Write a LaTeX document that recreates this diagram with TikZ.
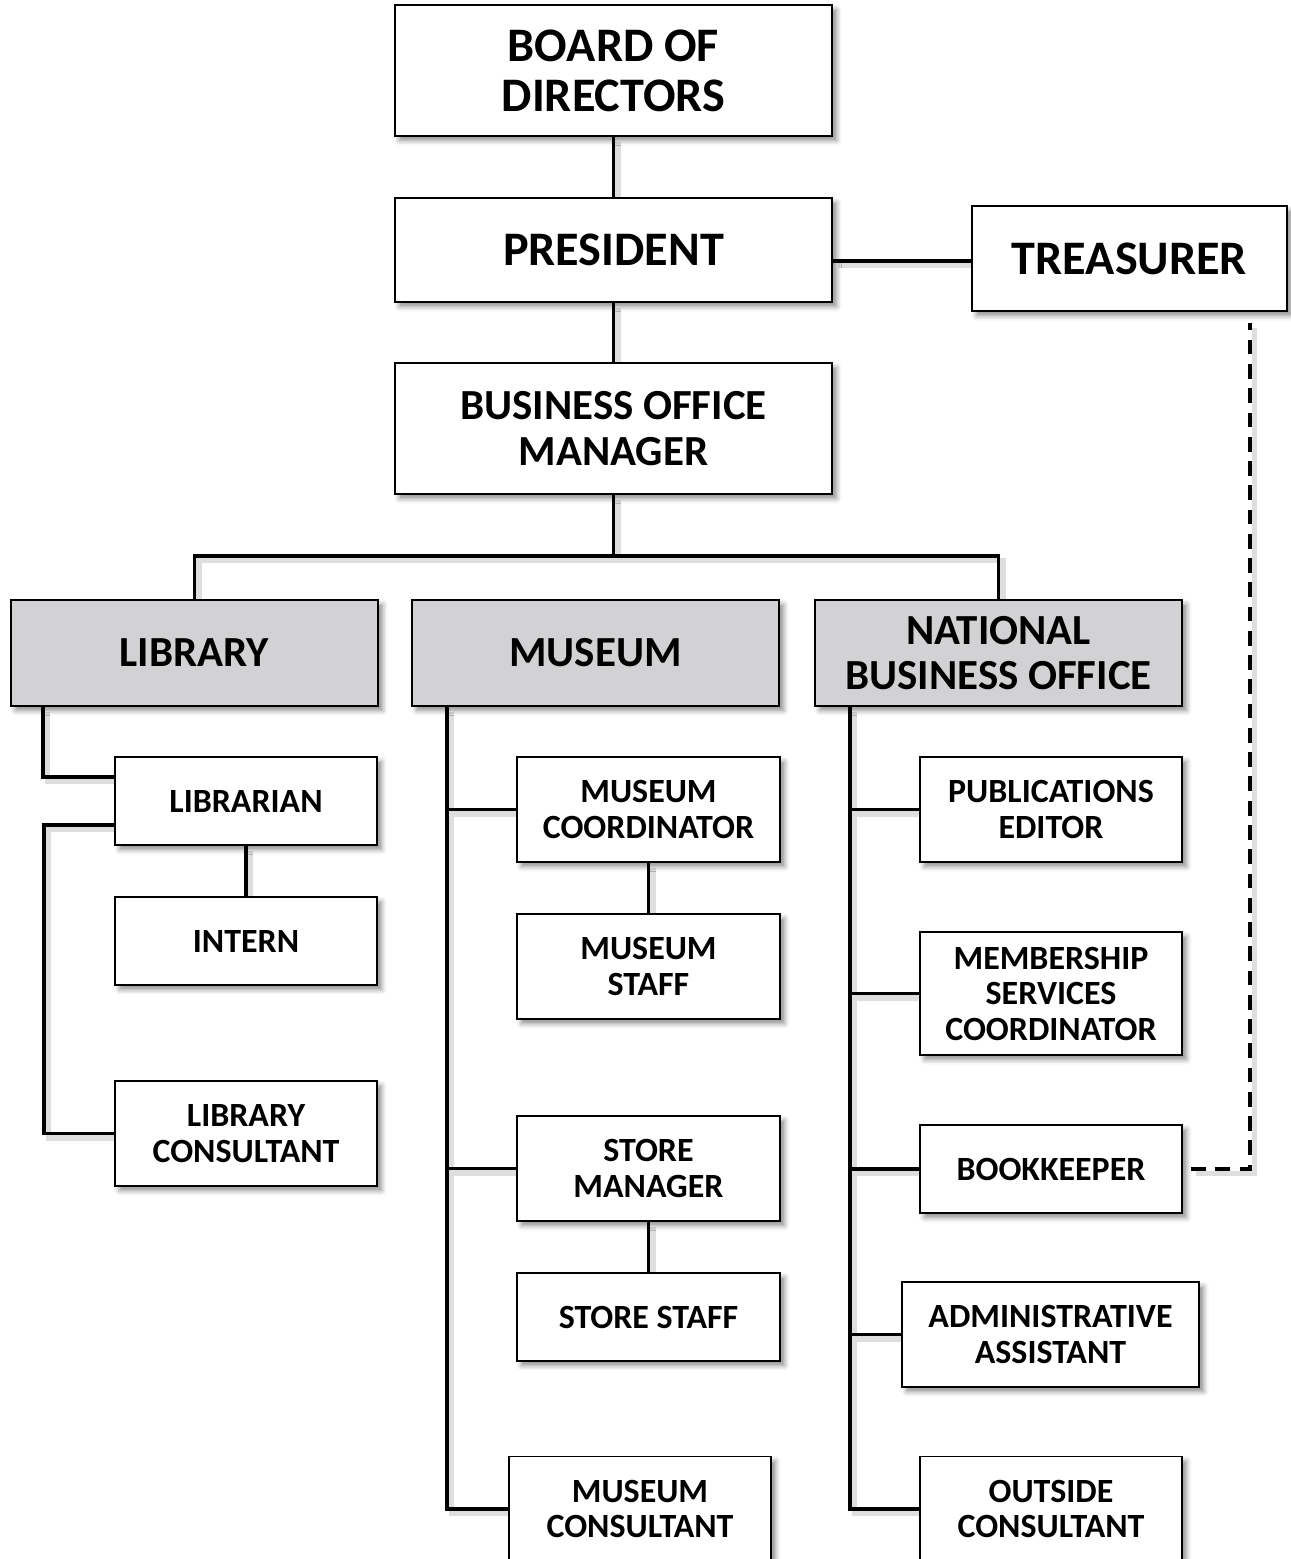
\documentclass[tikz,border=0pt]{standalone}
\usepackage{fontspec}
\setmainfont{Carlito}
\usetikzlibrary{positioning,shadows.blur,backgrounds}

\definecolor{deptgray}{RGB}{210,209,211}

\tikzset{
  box/.style={draw=black, line width=0.55pt, fill=white, rectangle, inner sep=0pt,
    align=center, font=\bfseries,
    blur shadow={shadow xshift=0.045cm, shadow yshift=-0.045cm, shadow blur radius=0.05cm, shadow opacity=45}},
  topbox/.style={box, font=\bfseries\fontsize{13.7pt}{14.2pt}\selectfont},
  midbox/.style={box, font=\bfseries\fontsize{12.2pt}{12.95pt}\selectfont},
  deptbox/.style={midbox, fill=deptgray, minimum width=3.67cm, minimum height=1.06cm},
  subbox/.style={box, font=\bfseries\fontsize{9.65pt}{10.1pt}\selectfont, minimum width=2.62cm},
  shade line/.style={preaction={draw=black!13, line width=1.6pt,
    transform canvas={shift={(0.045cm,-0.045cm)}}}},
  link/.style={line width=0.95pt, shade line},
  dashlink/.style={line width=0.95pt, dash pattern=on 4.2pt off 2.7pt, shade line}
}

\begin{document}
\begin{tikzpicture}[x=0.01cm,y=-0.01cm]
      \useasboundingbox (0,0) rectangle (1291,1559);
      \node (board) [topbox, minimum width=4.37cm, minimum height=1.31cm] at (613.5,70.5) {BOARD OF\\DIRECTORS};
      \node (pres) [topbox, minimum width=4.37cm, minimum height=1.04cm] at (613.5,250) {PRESIDENT};
      \node (treas) [topbox, minimum width=3.15cm, minimum height=1.05cm] at (1129.5,258.5) {TREASURER};
      \node (bom) [midbox, minimum width=4.37cm, minimum height=1.31cm] at (613.5,428.5) {BUSINESS OFFICE\\MANAGER};

      \node (lib) [deptbox] at (194.5,653) {LIBRARY};
      \node (mus) [deptbox] at (595.5,653) {MUSEUM};
      \node (nbo) [deptbox] at (998.5,653) {NATIONAL\\BUSINESS OFFICE};

      \node (librarian) [subbox, minimum height=0.88cm] at (246,801) {LIBRARIAN};
      \node (intern) [subbox, minimum height=0.88cm] at (246,941) {INTERN};
      \node (libcons) [subbox, minimum height=1.05cm] at (246,1133.5) {LIBRARY\\CONSULTANT};

      \node (muscoord) [subbox, minimum width=2.63cm, minimum height=1.05cm] at (648.5,809.5) {MUSEUM\\COORDINATOR};
      \node (musstaff) [subbox, minimum width=2.63cm, minimum height=1.05cm] at (648.5,966.5) {MUSEUM\\STAFF};
      \node (storemgr) [subbox, minimum width=2.63cm, minimum height=1.05cm] at (648.5,1168.5) {STORE\\MANAGER};
      \node (storestaff) [subbox, minimum width=2.63cm, minimum height=0.88cm] at (648.5,1317) {STORE STAFF};
      \node (muscons) [subbox, minimum height=1.05cm] at (640,1509) {MUSEUM\\CONSULTANT};

      \node (pubed) [subbox, minimum height=1.05cm] at (1051,809.5) {PUBLICATIONS\\EDITOR};
      \node (memb) [subbox, minimum height=1.23cm] at (1051,993.5) {MEMBERSHIP\\SERVICES\\COORDINATOR};
      \node (bookk) [subbox, minimum height=0.88cm] at (1051,1169) {BOOKKEEPER};
      \node (admin) [subbox, minimum width=2.97cm, minimum height=1.05cm] at (1050.5,1334.5) {ADMINISTRATIVE\\ASSISTANT};
      \node (outcons) [subbox, minimum height=1.05cm] at (1051,1509) {OUTSIDE\\CONSULTANT};

      \coordinate (bus) at (613.5,556);
      \coordinate (mspine) at ([xshift=0.36cm]mus.south west);
      \coordinate (nspine) at ([xshift=0.36cm]nbo.south west);

      \begin{scope}[on background layer]
      \draw[link] (board) -- (pres);
      \draw[link] (pres) -- (bom);
      \draw[link] ([yshift=-0.025cm]pres.east |- treas.west) -- ([yshift=-0.025cm]treas.west);
      \draw[link] (bom) -- (bus);
      \draw[link] (lib.north) |- (bus) -| (nbo.north);

      \draw[link] ([xshift=0.33cm]lib.south west) |- ([yshift=0.24cm]librarian.west);
      \draw[link] ([yshift=-0.24cm]librarian.west) -- ++(-70,0) |- (libcons.west);
      \draw[link] (librarian) -- (intern);

      \draw[link] (mspine) |- (muscons.west);
      \draw[link] (muscoord.west) -- (muscoord.west -| mspine);
      \draw[link] (storemgr.west) -- (storemgr.west -| mspine);
      \draw[link] (muscoord) -- (musstaff);
      \draw[link] (storemgr) -- (storestaff);

      \draw[link] (nspine) |- (outcons.west);
      \draw[link] (pubed.west) -- (pubed.west -| nspine);
      \draw[link] (memb.west) -- (memb.west -| nspine);
      \draw[link] (bookk.west) -- (bookk.west -| nspine);
      \draw[link] (admin.west) -- (admin.west -| nspine);

      \draw[dashlink] ([xshift=0.08cm]bookk.east) -| ([xshift=-0.38cm,yshift=-0.11cm]treas.south east);
      \end{scope}
    \end{tikzpicture}
\end{document}
